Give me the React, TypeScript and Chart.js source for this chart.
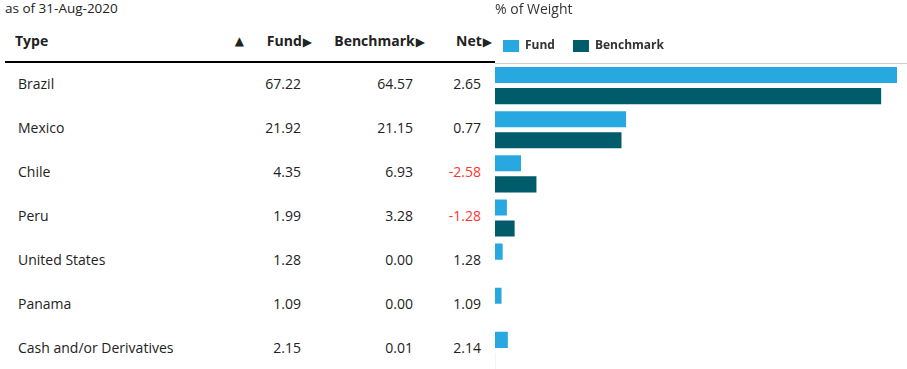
import React, { useEffect, useRef } from "react";
import { Chart, registerables } from "chart.js";

Chart.register(...registerables);

const asOfLabel = "as of 31-Aug-2020";
const chartTitle = "% of Weight";
const columnHeaders = ["Type", "Fund", "Benchmark", "Net"];
const seriesLabels = ["Fund", "Benchmark"];
const categories = [
  "Brazil",
  "Mexico",
  "Chile",
  "Peru",
  "United States",
  "Panama",
  "Cash and/or Derivatives",
];
const fundValues = [67.22, 21.92, 4.35, 1.99, 1.28, 1.09, 2.15];
const benchmarkValues = [64.57, 21.15, 6.93, 3.28, 0.0, 0.0, 0.01];
const netValues = [2.65, 0.77, -2.58, -1.28, 1.28, 1.09, 2.14];

const FONT = "'Open Sans', Arial, sans-serif";
const FUND_COLOR = "#27A8E0";
const BENCH_COLOR = "#005B6B";
const TEXT_COLOR = "#222222";
const NEG_COLOR = "#FF3333";

const ROW_TOP = 73.6;
const ROW_STEP = 44;

function abs(left: number, top: number, extra: React.CSSProperties = {}): React.CSSProperties {
  return { position: "absolute", left, top, lineHeight: "20px", whiteSpace: "nowrap", ...extra };
}

function BarChart() {
  const ref = useRef<HTMLCanvasElement | null>(null);
  useEffect(() => {
    if (!ref.current) return;
    const maxValue = Math.max(...fundValues, ...benchmarkValues);
    const chart = new Chart(ref.current, {
      type: "bar",
      data: {
        labels: categories,
        datasets: [
          {
            label: seriesLabels[0],
            data: fundValues,
            backgroundColor: FUND_COLOR,
            borderWidth: 0,
            categoryPercentage: 42 / 44,
            barPercentage: 16 / 21,
          },
          {
            label: seriesLabels[1],
            data: benchmarkValues,
            backgroundColor: BENCH_COLOR,
            borderWidth: 0,
            categoryPercentage: 42 / 44,
            barPercentage: 16 / 21,
          },
        ],
      },
      options: {
        indexAxis: "y",
        animation: false,
        responsive: false,
        maintainAspectRatio: false,
        layout: { padding: { left: 0, top: 0, right: 10, bottom: 0.5 } },
        plugins: {
          title: {
            display: true,
            text: chartTitle,
            align: "start",
            fullSize: false,
            color: "#333333",
            font: { family: FONT, size: 14, weight: "normal" },
            padding: { top: 1.6, bottom: 3.6 },
          },
          legend: {
            display: true,
            position: "top",
            align: "start",
            labels: {
              boxWidth: 16,
              boxHeight: 12,
              padding: 18,
              color: "#333333",
              font: { family: FONT, size: 12, weight: "bold" },
            },
          },
          tooltip: { enabled: false },
        },
        scales: {
          x: {
            position: "top",
            min: 0,
            max: maxValue,
            grid: { display: false },
            border: { display: false },
            ticks: { display: false },
            afterFit: (s: any) => {
              s.height = 1.5;
            },
          },
          y: {
            grid: { display: false },
            border: { display: false },
            ticks: { display: false },
            afterFit: (s: any) => {
              s.width = 10;
            },
          },
        },
      },
    } as any);
    return () => chart.destroy();
  }, []);
  return (
    <div style={{ position: "absolute", left: 485, top: 0, width: 422, height: 373 }}>
      <canvas ref={ref} width={422} height={373} style={{ display: "block" }} />
    </div>
  );
}

const arrowStyle: React.CSSProperties = { fontSize: 12, marginLeft: 1, fontFamily: "'DejaVu Sans', sans-serif" };

export default function App() {
  return (
    <div
      style={{
        position: "absolute",
        left: 0,
        top: 0,
        width: 907,
        height: 369,
        overflow: "hidden",
        background: "#fff",
        fontFamily: FONT,
        color: TEXT_COLOR,
        fontSize: 14,
      }}
    >
      <div style={abs(5, -2.4, { fontSize: 13.5 })}>{asOfLabel}</div>

      <div style={abs(15, 31, { fontWeight: 700 })}>{columnHeaders[0]}</div>
      <div style={abs(200, 31, { width: 44, textAlign: "right", fontSize: 12, fontFamily: "'DejaVu Sans', sans-serif" })}>▲</div>
      <div style={abs(200, 31, { width: 112, textAlign: "right", fontWeight: 700 })}>
        {columnHeaders[1]}
        <span style={arrowStyle}>▶</span>
      </div>
      <div style={abs(300, 31, { width: 125, textAlign: "right", fontWeight: 700 })}>
        {columnHeaders[2]}
        <span style={arrowStyle}>▶</span>
      </div>
      <div style={abs(420, 31, { width: 72, textAlign: "right", fontWeight: 700 })}>
        {columnHeaders[3]}
        <span style={arrowStyle}>▶</span>
      </div>

      <div style={{ position: "absolute", left: 5, top: 61, width: 490, height: 2, background: "#000" }} />
      <div style={{ position: "absolute", left: 495, top: 63, width: 412, height: 1, background: "#cccccc" }} />

      {categories.map((c, i) => {
        const top = ROW_TOP + ROW_STEP * i;
        return (
          <React.Fragment key={c}>
            <div style={abs(18, top)}>{c}</div>
            <div style={abs(200, top, { width: 101, textAlign: "right" })}>{fundValues[i].toFixed(2)}</div>
            <div style={abs(300, top, { width: 113, textAlign: "right" })}>{benchmarkValues[i].toFixed(2)}</div>
            <div
              style={abs(400, top, {
                width: 81,
                textAlign: "right",
                color: netValues[i] < 0 ? NEG_COLOR : TEXT_COLOR,
              })}
            >
              {netValues[i].toFixed(2)}
            </div>
          </React.Fragment>
        );
      })}

      <BarChart />
    </div>
  );
}
